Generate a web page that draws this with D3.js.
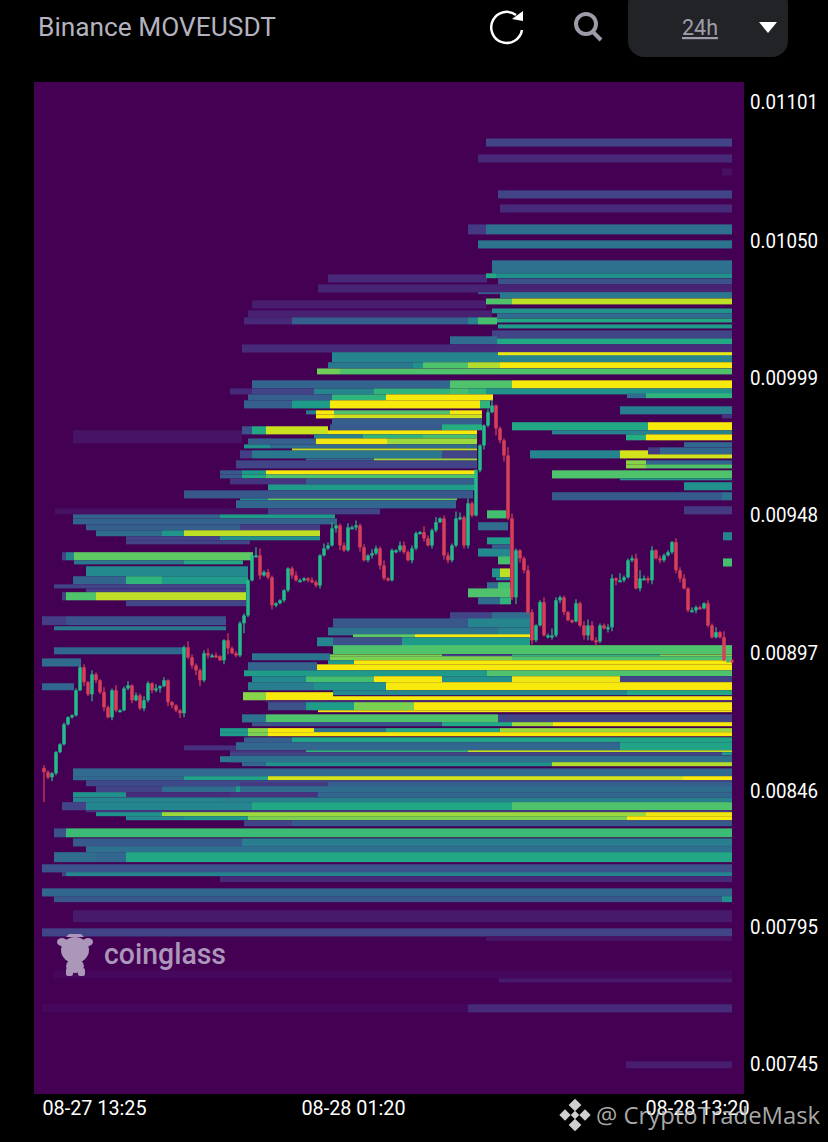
<!DOCTYPE html>
<html><head><meta charset="utf-8">
<script src="https://cdn.jsdelivr.net/npm/d3@7"></script>
<style>html,body{margin:0;padding:0;background:#000;}svg{display:block;}</style>
</head><body><svg id="c" width="828" height="1142"></svg>
<script>
// prices are in millionths of USDT
const priceTicks = [11010,10495,9990,9480,8970,8460,7955,7450];
const priceLabels = ["0.01101","0.01050","0.00999","0.00948","0.00897","0.00846","0.00795","0.00745"];
const timeTickBars = [12.5,77.25,163.25];
const timeLabels = ["08-27 13:25","08-28 01:20","08-28 13:20"];
const closes = [8530,8511,8526,8604,8633,8707,8733,8740,8833,8918,8863,8818,8892,8870,8826,8770,8733,8833,8759,8759,8840,8851,8796,8814,8766,8796,8859,8833,8840,8848,8870,8789,8777,8759,8748,8992,8955,8925,8907,8870,8970,8962,8962,8959,8944,9018,8988,8970,8962,9081,9110,9240,9332,9332,9258,9270,9251,9147,9155,9166,9203,9284,
9258,9240,9240,9247,9240,9233,9221,9332,9358,9369,9432,9443,9369,9351,9436,9436,9443,9362,9314,9332,9340,9358,9295,9247,9240,9351,9351,9369,9344,9314,9358,9414,9418,9395,9369,9425,9455,9469,9332,9314,9369,9469,9473,9369,9525,9480,9647,9739,9813,9862,9887,9802,9758,9702,9469,9177,9351,9321,9277,9122,9018,9073,9159,9036,9036,9036,9166,9177,9122,9092,9088,9155,9073,9036,9073,9018,9014,9073,9062,9066,9247,9240,9240,9251,9314,9321,9210,9247,9247,9240,9351,9321,9314,9332,9344,9381,9277,9247,9210,9129,9129,9140,9136,9155,9073,9029,9048,9029,8944,8944,8937];
const wickUp = [11,7,4,4,4,7,4,4,7,7,11,4,15,7,4,18,7,7,19,4,7,15,4,11,7,15,7,4,15,4,11,4,4,4,4,7,22,11,7,7,11,18,7,11,4,4,26,7,7,7,7,4,7,30,26,7,11,7,4,4,4,4,7,15,7,4,4,11,7,4,18,11,22,26,7,11,15,7,18,7,11,4,15,11,7,18,4,7,4,15,15,7,11,7,4,22,11,7,19,4,11,11,7,26,18,7,18,7,4,4,4,11,22,4,7,7,30,18,7,4,7,18,11,4,7,18,7,26,11,7,7,4,4,15,7,15,22,15,11,7,7,11,15,4,26,7,7,11,18,30,11,7,15,4,11,7,7,4,15,11,15,4,11,7,7,4,11,7,18,4,22,11,4];
const wickDown = [110,7,15,7,4,4,4,4,4,4,15,7,26,11,7,15,4,11,7,7,4,7,11,4,7,11,7,11,7,15,4,15,11,7,18,15,7,11,18,22,7,11,7,7,4,15,22,4,7,7,37,7,4,4,15,4,7,15,7,4,7,7,11,4,7,4,7,4,7,11,4,7,4,15,18,7,4,7,11,15,4,7,11,7,15,7,4,4,11,7,7,4,11,7,4,11,4,11,7,4,15,11,7,7,7,11,11,7,4,7,15,7,4,26,11,22,7,11,26,15,11,7,15,7,4,4,11,15,7,11,11,4,7,4,7,15,18,4,15,7,4,15,15,18,4,7,4,7,4,11,7,11,15,4,11,7,4,7,11,15,4,7,7,11,4,4,7,4,4,4,4,7,4];
// each row: top price, price height, then pairs of start bar and heat (heat 0 ends the row)
const heatRows = [
[10875,30,110.5,.2],[10816,30,108.5,.11],[10764,26,169.5,.04],[10683,30,113.5,.2],[10631,30,114,.12],
[10557,37,106,.17,110.5,.37],[10498,30,108.5,.38],[10372,30,71,.11,110.75,0],[10424,48,112,.37],[10376,18,110.5,.6,113,.5],
[10357,22,113.5,.25],[10335,30,68.5,.1],[10306,7,108.5,.3],[10306,22,114,.4],[10276,30,52,.08,110.5,0],[10283,22,110.5,.72,117,.9],
[10239,26,51,.09,112,0],[10246,18,112,.5],[10228,18,113.25,.35],[10213,26,50,.11,62,.3,106,.45,108.5,.7,113.25,0],[10209,15,113.25,.6],
[10187,15,113.5,.55],[10165,30,112,.2],[10143,30,101.5,.35,113.25,0],[10135,22,113.25,.6],[10113,30,49.5,.12],[10084,37,72,.45],[10084,11,113.5,.98],
[10047,22,71,.4,92.25,.5,94.75,.72,106,.88,114,1],[10024,22,68.25,.78,74,.72],
[9980,30,52,.32,99.5,.33,101.5,.72,117,1],[9950,22,46.5,.12,52,.2,67.5,.45,82.5,.65,101.5,.7,106,.65,110.5,.5],
[9932,18,145.75,.35,150.5,.65],[9928,22,51,.3,72,.65,85.5,1,112.25,0],[9906,30,50,.3,62,.55,71.5,1,109,.65,111.5,0],[9884,30,144,.42],
[9869,15,65.5,.4,68,1,72.5,.72,101.5,1,109.5,0],[9854,15,68,1,72.5,.92,109.5,0],[9854,15,169.5,.15],[9839,30,72,.3,109.5,0],
[9825,30,117,.6,151,1],[9817,22,71.5,.28,99.5,.62,109.5,0],[9810,30,49.5,.25,52,.6,55.5,.92,71,0],[9795,48,7.25,.05,49.5,0],[9795,15,71,1,108.25,0],[9795,15,127,.45],
[9780,15,67.5,.45,79.75,.65,94.75,.7,108.25,0],[9780,22,145.5,.62,150.5,1],[9765,22,51,.3,68,.97,85.75,.85,108.25,0],[9751,18,160,.33],
[9743,15,50,.5,56.5,.35,108.25,0],[9732,26,151,.17,154,.33],[9721,30,49,.18,52,.4,99.5,.2,108.25,0],[9728,7,62,.9,108.25,0],[9721,30,121.5,.45,144,.93,151,0],[9706,15,151,.93],
[9684,30,48,.2,108.25,0],[9691,7,65.5,.35,82.5,.85,108.25,0],[9684,15,145.5,.82,150.5,.33],[9669,15,145.5,.82,150.5,.72],
[9647,15,44,.28,49.5,.55,55.5,1,108,0],[9632,15,44,.28,49.5,.6,55.5,.72,108,0],[9647,30,127,.72],[9617,7,144,.5],[9617,22,46.5,.15,65.5,.3,107.75,0],
[9603,30,160,.5],[9595,22,56,.55,107.75,0],[9573,30,35,.27,107.25,0],[9566,30,127,.28,169.5,.37],[9543,7,49,.5,56,.75,103.25,0],[9536,30,48,.33,103,0],
[9514,30,160,.17],[9506,22,2.75,.04,56,.2,84,0],[9499,30,110.75,.7,115.5,0],[9484,15,7.25,.32,44,.55,72.75,0],[9469,22,7.25,.32,72.75,0],
[9455,30,108.5,.35,116,0],[9447,22,10.5,.3,49,.18,69,0],[9425,22,13,.35,29.5,.52,35,.9,69,0],[9418,30,169.75,.45],[9403,15,20.5,.2,44,.5,69,0],
[9399,26,110.75,.55,116.5,0],[9388,15,20.5,.2,51.5,0],[9373,15,112,.3,116.5,0],[9358,30,108.5,.47,116.5,0],[9344,30,4.5,.2,5.5,.45,7.5,.75,52.25,0],
[9329,30,113.5,.7,116.5,0],[9321,30,169.75,.7],[9314,15,7.5,.4,35,.6,49.75,0],[9292,37,10.5,.47,51,0],[9284,33,112,.5,114,.9,116.5,0],
[9255,30,7.25,.32,20.5,.65,29.5,.55,51,0],[9251,11,113,.5,116.5,0],[9233,30,110.75,.35,113.5,.7,116.5,0],[9225,15,2.5,.2,51,0],[9210,15,10.5,.18,51,0],
[9210,33,106,.72,116.75,0],[9196,30,4.5,.2,5.5,.72,13,.9,50.5,0],[9177,26,108.5,.35,114,.65,116.75,0],[9166,22,20.5,.2,50.5,0],
[9122,26,101.5,.2,112,.35,121.5,0],[9107,33,-.5,.18,5.5,.25,45.5,0],[9099,33,72.25,.27,106,.45,121.5,0],[9070,15,2.5,.4,45.5,0],[9066,30,71,.38,113.5,.45,121.5,0],
[9040,11,77.25,.75,92.75,1,121.5,0],[9029,33,68.25,.45,72.25,.25,89.5,.55,121.5,0],[9000,33,72.25,.72],[8992,26,2.5,.33,34.75,0],[8970,26,52,.38,71.5,0],
[8966,7,71.5,.8,99.5,.2,117,.65,154,.8],[8959,15,71.5,.8,117,.72],[8951,30,-.5,.35,9.25,0],[8944,15,71,.55,77.5,1],[8937,30,51,.32,68.25,0],[8929,22,68.25,1],
[8907,22,50,.55,110.75,.72],[8885,22,52,.47,65.5,.7,82.5,1,99.5,.5,117,.98,144,.2],[8863,30,51,.42,67.5,.5,85.5,1],[8859,26,-.5,.33,7.5,0],
[8833,18,72.25,.47,145.75,.6],[8826,30,49.75,.82,55.5,1,72.25,0],[8811,15,72.25,1],[8796,7,55.5,.12],[8789,30,56,.25,65.5,.55,77.5,.8,92.5,1],[8759,7,68.5,.95],
[8744,30,49.5,.37,55.5,.72,113.5,.2],[8715,15,52,.25,99.5,.6,117,.85,127.25,1],[8693,15,44,.55,51,.82,56,1,67.5,.38,85.5,.6,114,.85],[8678,15,44,.55,51,.8,56,1],
[8659,18,50,.3,62,.58],[8641,30,48,.33,144,.58],[8629,18,35,.14,48,0],[8611,7,46.5,.15,65.5,.65,106,.9],[8604,11,46.5,.2,169.5,.55],[8592,26,46.5,.37],[8589,22,44,.4,46.5,0],
[8567,15,49.5,.33,55.5,.5,127,.88],[8544,30,7.25,.34],[8515,15,7.25,.34,35,.58,56,.93,159.75,1],[8500,22,10.5,.22],[8493,18,49,.17,71,.3],[8478,22,13,.2,29.5,.35,48,.55,49,.35],
[8456,18,7.25,.5,20.5,.13,46.5,.15,68.5,.33],[8437,18,7.25,.45,44,.43],[8419,30,4.5,.2,10.5,.46,52,.6,117,.72],[8389,7,10.5,.16],[8382,15,13,.5,29.5,.85,150.5,.95],
[8367,15,20.5,.47,35,.52,51,.8,145.75,1],[8352,22,50,.2,62,.28],[8322,33,2.5,.25,5.5,.68],[8285,30,7.25,.28,49.5,.42],[8256,22,10.5,.37],[8234,37,2.5,.35,13,.33,20.5,.6],
[8189,30,-.5,.25],[8160,15,4.5,.2,5.5,.45],[8145,22,44,.12],[8100,30,-.5,.33],[8071,22,2.5,.27,169.5,.5],[8019,44,7.25,.07],[7952,30,-.5,.2],[7923,18,110.5,.05],
[7797,30,2.5,.02],[7767,15,113.75,.07],[7671,30,-.5,.02,106,.12],[7460,26,145.5,.08]
];
const titleText = "Binance MOVEUSDT";
const intervalText = "24h";
const brandText = "coinglass";
const creditText = "@ CryptoTradeMask";

const lastBar = closes.length - 1;
const x = d3.scaleLinear().domain([0, lastBar]).range([44, 732]);
const y = d3.scaleLinear().domain([7450, 11010]).range([1064, 102]);
const viridis = d3.scaleSequential(d3.interpolateViridis).domain([0, 1]);
const heat = t => t >= 1 ? "#f6e90b" : t >= .95 ? "#f0e612" : viridis(t);
const svg = d3.select("#c");
const plot = {l:34, t:82, r:744, b:1094};

svg.append("rect").attr("x",plot.l).attr("y",plot.t).attr("width",plot.r-plot.l).attr("height",plot.b-plot.t).attr("fill",heat(0));

// heat rows
const cells = heatRows.flatMap(r => {
  const out = [];
  for (let i = 2; i < r.length; i += 2) {
    if (r[i+1] === 0) continue;
    const end = i + 2 < r.length ? r[i+2] : lastBar;
    out.push({top:r[0], size:r[1], a:r[i], b:end, h:r[i+1]});
  }
  return out;
});
svg.append("g").selectAll("rect").data(cells).join("rect")
  .attr("x", d => x(d.a)).attr("width", d => x(d.b) - x(d.a))
  .attr("y", d => y(d.top)).attr("height", d => y(d.top - d.size) - y(d.top))
  .attr("fill", d => heat(d.h));

// candles
const candles = closes.map((c,i) => {
  const o = i ? closes[i-1] : c + 15;
  return {i, o, c, hi:Math.max(o,c)+wickUp[i], lo:Math.min(o,c)-wickDown[i]};
});
const up = "#22bd8a", dn = "#d8405a";
const cg = svg.append("g");
cg.selectAll("line").data(candles).join("line")
  .attr("x1", d => x(d.i)).attr("x2", d => x(d.i))
  .attr("y1", d => y(d.hi)).attr("y2", d => y(d.lo))
  .attr("stroke", d => d.c >= d.o ? up : dn).attr("stroke-width",1.2);
cg.selectAll("rect").data(candles).join("rect")
  .attr("x", d => x(d.i)-1.75).attr("width",3.5)
  .attr("y", d => y(Math.max(d.o,d.c)))
  .attr("height", d => Math.max(2, y(Math.min(d.o,d.c)) - y(Math.max(d.o,d.c))))
  .attr("fill", d => d.c >= d.o ? up : dn);

// axes
const axisFont = "Roboto, sans-serif";
const yAxis = d3.axisRight(y).tickValues(priceTicks).tickSize(0).tickPadding(0)
  .tickFormat((d,i) => priceLabels[i]);
const ya = svg.append("g").attr("transform",`translate(750,0)`).call(yAxis);
ya.select(".domain").remove();
ya.selectAll("text").attr("fill","#fff").attr("font-family",axisFont).attr("font-size",20)
  .attr("font-weight",400).attr("textLength",68).attr("lengthAdjust","spacingAndGlyphs");
const xAxis = d3.axisBottom(x).tickValues(timeTickBars).tickSize(0).tickPadding(0)
  .tickFormat((d,i) => timeLabels[i]);
const xa = svg.append("g").attr("transform",`translate(0,1101)`).call(xAxis);
xa.select(".domain").remove();
xa.selectAll("text").attr("fill","#fff").attr("font-family",axisFont).attr("font-size",20)
  .attr("font-weight",400).attr("textLength",104).attr("lengthAdjust","spacingAndGlyphs");

// header
svg.append("text").attr("x",38).attr("y",36).text(titleText)
  .attr("font-family",axisFont).attr("font-size",26).attr("font-weight",400).attr("fill","#b4b2bf")
  .attr("textLength",238).attr("lengthAdjust","spacingAndGlyphs");
svg.append("path").attr("d","M516 15 A15.5 15.5 0 1 0 522 30").attr("fill","none").attr("stroke","#fff").attr("stroke-width",2.5);
svg.append("path").attr("d","M512 19 L523 11 L523 21 Z").attr("fill","#fff");
svg.append("circle").attr("cx",586).attr("cy",24).attr("r",10).attr("fill","none").attr("stroke","#9c9ba7").attr("stroke-width",4);
svg.append("line").attr("x1",593).attr("y1",32).attr("x2",601).attr("y2",40).attr("stroke","#9c9ba7").attr("stroke-width",4);
svg.append("rect").attr("x",628).attr("y",-12).attr("width",160).attr("height",69).attr("rx",16).attr("fill","#222327");
svg.append("text").attr("x",700).attr("y",35).attr("text-anchor","middle").text(intervalText)
  .attr("font-family",axisFont).attr("font-size",22).attr("fill","#9e9da9").attr("text-decoration","underline")
  .attr("textLength",36).attr("lengthAdjust","spacingAndGlyphs");
svg.append("path").attr("d","M759 22 L777 22 L768 33 Z").attr("fill","#fff");

// coinglass watermark
const mark = "#ab97b9";
const wm = svg.append("g").attr("fill",mark);
wm.append("ellipse").attr("cx",75).attr("cy",950).attr("rx",14).attr("ry",13);
wm.append("ellipse").attr("cx",62).attr("cy",942).attr("rx",5).attr("ry",4);
wm.append("ellipse").attr("cx",88).attr("cy",942).attr("rx",5).attr("ry",4);
wm.append("ellipse").attr("cx",75).attr("cy",966).attr("rx",9).attr("ry",7);
wm.append("rect").attr("x",66).attr("y",968).attr("width",7).attr("height",8).attr("rx",2);
wm.append("rect").attr("x",78).attr("y",968).attr("width",7).attr("height",8).attr("rx",2);
wm.append("path").attr("d","M66 937 L69 934 L81 934 L84 937 Z");
svg.append("text").attr("x",104).attr("y",964).text(brandText)
  .attr("font-family","Roboto, sans-serif").attr("font-size",30).attr("font-weight",500).attr("fill",mark)
  .attr("textLength",122).attr("lengthAdjust","spacingAndGlyphs");

// credit
const dia = svg.append("g").attr("fill","#cfcfcf");
[[575,1105,4.5],[575,1125,4.5],[565,1115,4],[585,1115,4]].forEach(p=>{
  dia.append("rect").attr("x",p[0]-p[2]).attr("y",p[1]-p[2]).attr("width",p[2]*2).attr("height",p[2]*2)
    .attr("transform",`rotate(45 ${p[0]} ${p[1]})`);
});
dia.append("rect").attr("x",572).attr("y",1112).attr("width",6).attr("height",6).attr("transform","rotate(45 575 1115)");
svg.append("text").attr("x",596).attr("y",1124).text(creditText)
  .attr("font-family","'Open Sans', sans-serif").attr("font-size",24).attr("fill","#c8c8c8").attr("fill-opacity",.85)
  .attr("textLength",224).attr("lengthAdjust","spacingAndGlyphs");
</script></body></html>
